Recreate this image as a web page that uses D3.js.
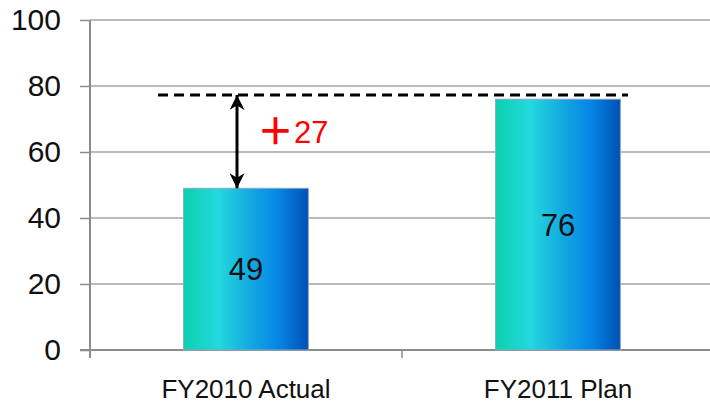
<!DOCTYPE html>
<html>
<head>
<meta charset="utf-8">
<script src="https://cdn.jsdelivr.net/npm/d3@7"></script>
<style>
  html, body { margin: 0; padding: 0; background: #fff; }
  svg { display: block; font-family: "Liberation Sans", Arial, sans-serif; }
</style>
</head>
<body>
<svg id="chart" width="710" height="403"></svg>
<script>
// Fiscal-year comparison data
const categories = ["FY2010 Actual", "FY2011 Plan"];
const values = [49, 76];
const yTicks = [0, 20, 40, 60, 80, 100];
const targetLevel = 77.3;   // dashed reference level
const gain = values[1] - values[0];   // +27

const svg = d3.select("#chart");
const plotLeft = 90, plotRight = 714, plotTop = 20, plotBottom = 350;

const y = d3.scaleLinear().domain([0, 100]).range([plotBottom, plotTop]);
const x = d3.scaleBand().domain(categories).range([plotLeft, plotRight]).padding(0);
const barW = x.bandwidth() * 0.4;

// bar gradient
const defs = svg.append("defs");
const grad = defs.append("linearGradient").attr("id", "barGrad")
  .attr("x1", "0%").attr("x2", "100%").attr("y1", "0%").attr("y2", "0%");
[["0%", "#0cd0ae"], ["28%", "#24d8de"], ["55%", "#12a6e0"], ["75%", "#0588e6"], ["100%", "#0050b4"]]
  .forEach(([o, c]) => grad.append("stop").attr("offset", o).attr("stop-color", c));

const marker = defs.append("marker").attr("id", "arrowHead")
  .attr("viewBox", "0 0 10 10").attr("refX", 10).attr("refY", 5)
  .attr("markerWidth", 5.5).attr("markerHeight", 5)
  .attr("markerUnits", "strokeWidth").attr("orient", "auto-start-reverse");
marker.append("path").attr("d", "M0,0 L10,5 L0,10 L3,5 Z").attr("fill", "#000");

// gridlines
svg.append("g").selectAll("line").data(yTicks.filter(d => d > 0)).join("line")
  .attr("x1", plotLeft).attr("x2", 710)
  .attr("y1", d => y(d)).attr("y2", d => y(d))
  .attr("stroke", "#a3a3a3").attr("stroke-width", 1.5);

// y axis
const yAxis = svg.append("g").attr("transform", `translate(${plotLeft},0)`)
  .call(d3.axisLeft(y).tickValues(yTicks).tickSize(10).tickPadding(19));
yAxis.select(".domain").remove();
yAxis.selectAll(".tick line").attr("stroke", "#8c8c8c").attr("stroke-width", 1.5);
yAxis.selectAll(".tick text").attr("font-size", 30).attr("fill", "#111")
  .attr("font-family", "Liberation Sans, Arial, sans-serif");
svg.append("line").attr("x1", plotLeft).attr("x2", plotLeft).attr("y1", plotTop).attr("y2", plotBottom + 8)
  .attr("stroke", "#8c8c8c").attr("stroke-width", 2);

// x axis
svg.append("line").attr("x1", plotLeft - 10).attr("x2", 710).attr("y1", plotBottom).attr("y2", plotBottom)
  .attr("stroke", "#8c8c8c").attr("stroke-width", 2);
svg.append("g").selectAll("line").data(categories.slice(1)).join("line")
  .attr("x1", d => x(d)).attr("x2", d => x(d)).attr("y1", plotBottom).attr("y2", plotBottom + 8)
  .attr("stroke", "#8c8c8c").attr("stroke-width", 1.5);
svg.append("g").selectAll("text").data(categories).join("text")
  .attr("x", d => x(d) + x.bandwidth() / 2).attr("y", 398)
  .attr("text-anchor", "middle").attr("font-size", 26).attr("fill", "#111")
  .text(d => d);

// bars
svg.append("g").selectAll("rect").data(values).join("rect")
  .attr("x", (d, i) => x(categories[i]) + (x.bandwidth() - barW) / 2)
  .attr("width", barW)
  .attr("y", d => y(d)).attr("height", d => y(0) - y(d))
  .attr("fill", "url(#barGrad)")
  .attr("stroke", "#8fa6bf").attr("stroke-width", 1);

// value labels
svg.append("g").selectAll("text").data(values).join("text")
  .attr("x", (d, i) => x(categories[i]) + x.bandwidth() / 2)
  .attr("y", d => (y(d) + y(0)) / 2)
  .attr("dy", "0.36em")
  .attr("text-anchor", "middle").attr("font-size", 31).attr("fill", "#111")
  .text(d => d);

// dashed target line
const cx0 = x(categories[0]) + x.bandwidth() / 2;
svg.append("line")
  .attr("x1", cx0 - 88).attr("x2", x(categories[1]) + x.bandwidth() / 2 + 70)
  .attr("y1", y(targetLevel)).attr("y2", y(targetLevel))
  .attr("stroke", "#000").attr("stroke-width", 3).attr("stroke-dasharray", "10,6");

// double-headed arrow between actual and target
const ax = cx0 - 9;
svg.append("line")
  .attr("x1", ax).attr("x2", ax)
  .attr("y1", y(values[0])).attr("y2", y(targetLevel))
  .attr("stroke", "#000").attr("stroke-width", 3)
  .attr("marker-start", "url(#arrowHead)").attr("marker-end", "url(#arrowHead)");

// gain label
const gainText = svg.append("text")
  .attr("x", ax + 20).attr("y", 143)
  .attr("font-size", 31).attr("fill", "#ff0000");
gainText.append("tspan").attr("font-family", "Noto Sans CJK JP, sans-serif")
  .attr("font-weight", 700).attr("font-size", 37).attr("dy", 2).text("＋");
gainText.append("tspan").attr("dx", 0).attr("dy", -2).text(gain);
</script>
</body>
</html>
